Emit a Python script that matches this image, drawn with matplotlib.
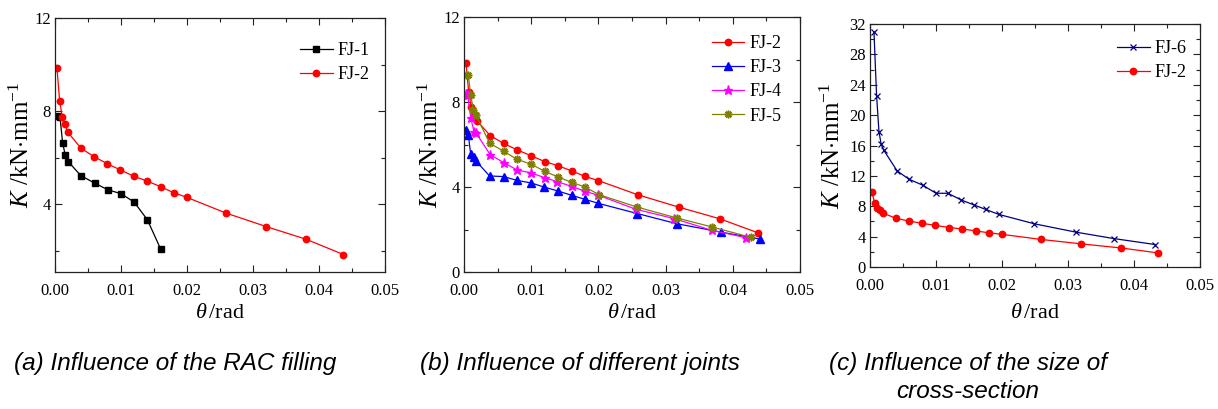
import matplotlib
matplotlib.use("Agg")
import matplotlib.pyplot as plt
from matplotlib.ticker import MultipleLocator, FormatStrFormatter

plt.rcParams['font.family'] = 'serif'
plt.rcParams['font.serif'] = ['Liberation Serif', 'DejaVu Serif']
plt.rcParams['mathtext.fontset'] = 'custom'
plt.rcParams['mathtext.rm'] = 'Liberation Serif'
plt.rcParams['mathtext.it'] = 'Liberation Serif:italic'

# ---------------- data ----------------
theta_fj1 = [0.00035, 0.00076, 0.00116, 0.00157, 0.0020, 0.0039, 0.0061, 0.0080, 0.0100, 0.0120, 0.0140, 0.0160]
k_fj1 = [7.81, 7.74, 6.63, 6.10, 5.84, 5.24, 4.90, 4.63, 4.46, 4.10, 3.34, 2.09]

theta_fj2 = [0.0003, 0.0007, 0.0011, 0.0015, 0.0019, 0.0039, 0.0059, 0.0079, 0.0099,
             0.0120, 0.0140, 0.0160, 0.0180, 0.0200, 0.0259, 0.0320, 0.0381, 0.0437]
k_fj2 = [9.85, 8.45, 7.75, 7.45, 7.12, 6.42, 6.05, 5.75, 5.48,
         5.20, 5.00, 4.76, 4.50, 4.30, 3.63, 3.05, 2.50, 1.85]

theta_fj3 = [0.00025, 0.00065, 0.0010, 0.00144, 0.0018, 0.0038, 0.0059, 0.0079, 0.0100,
             0.0119, 0.0140, 0.0160, 0.0180, 0.0200, 0.0258, 0.0317, 0.0382, 0.0440]
k_fj3 = [6.67, 6.43, 5.54, 5.41, 5.22, 4.52, 4.49, 4.31, 4.19,
         4.00, 3.81, 3.61, 3.42, 3.23, 2.75, 2.27, 1.88, 1.55]

theta_fj4 = [0.00025, 0.00055, 0.0010, 0.0015, 0.0018, 0.0039, 0.0059, 0.0079, 0.0099,
             0.0120, 0.0139, 0.0160, 0.0180, 0.0200, 0.0256, 0.0313, 0.0369, 0.0419]
k_fj4 = [8.36, 8.31, 7.26, 6.59, 6.54, 5.52, 5.15, 4.80, 4.67,
         4.44, 4.25, 4.03, 3.80, 3.61, 2.95, 2.51, 1.96, 1.62]

theta_fj5 = [0.00025, 0.00065, 0.0010, 0.0014, 0.0018, 0.0038, 0.0059, 0.0079, 0.0100,
             0.0120, 0.0140, 0.0160, 0.0180, 0.0201, 0.0257, 0.0317, 0.0369, 0.0427]
k_fj5 = [9.25, 9.25, 8.31, 7.64, 7.37, 6.07, 5.68, 5.30, 5.07,
         4.74, 4.47, 4.22, 4.00, 3.64, 3.06, 2.54, 2.12, 1.63]

theta_fj6 = [0.0006, 0.0010, 0.00136, 0.0017, 0.0021, 0.0041, 0.0059, 0.0080, 0.0100,
             0.0118, 0.0138, 0.0158, 0.0175, 0.0195, 0.0249, 0.0312, 0.0369, 0.0432]
k_fj6 = [30.98, 22.5, 17.8, 16.15, 15.36, 12.67, 11.56, 10.77, 9.71,
         9.71, 8.83, 8.16, 7.59, 6.93, 5.69, 4.59, 3.75, 2.96]

captions = ["(a) Influence of the RAC filling",
            "(b) Influence of different joints",
            "(c) Influence of the size of\ncross-section"]

W, H = 1218, 409
fig = plt.figure(figsize=(W / 100, H / 100), dpi=100)


def ax_at(left, top, right, bottom):
    ax = fig.add_axes([left / W, 1 - bottom / H, (right - left) / W, (bottom - top) / H])
    ax._px = (left, top, right, bottom)
    return ax


def style(ax, ylim, ymaj, ymin, ylab_dx):
    left, top, right, bottom = ax._px
    ax.set_xlim(0, 0.05)
    ax.set_ylim(*ylim)
    ax.xaxis.set_major_locator(MultipleLocator(0.01))
    ax.xaxis.set_minor_locator(MultipleLocator(0.005))
    ax.xaxis.set_major_formatter(FormatStrFormatter('%.2f'))
    ax.yaxis.set_major_locator(MultipleLocator(ymaj))
    ax.yaxis.set_minor_locator(MultipleLocator(ymin))
    ax.tick_params(which='both', direction='in', top=True, right=True,
                   labelsize=12, width=0.8, color='#222222',
                   labelfontfamily='Liberation Serif')
    ax.tick_params(which='major', length=5, pad=3)
    ax.tick_params(axis='x', which='major', pad=8)
    ax.tick_params(which='minor', length=3)
    for s in ax.spines.values():
        s.set_linewidth(0.9)
        s.set_color('#222222')
    ax.set_xlabel(r'$\theta\,$/rad', fontsize=16)
    ax.xaxis.set_label_coords(0.5, -(313 - bottom) / (bottom - top))
    ax.xaxis.label.set_va('center')
    ax.set_ylabel(r'$K$ /kN$\cdot$mm$^{-1}$', fontsize=18)
    ax.yaxis.set_label_coords(ylab_dx / (right - left), 0.5)


def leg(ax, x, y):
    ax.legend(loc='upper left', bbox_to_anchor=(x / W, 1 - y / H),
              bbox_transform=fig.transFigure, frameon=False, fontsize=13,
              handlelength=1.8, handletextpad=0.3, labelspacing=0.4,
              borderpad=0, borderaxespad=0)


lw = 0.9
ms_c = 4.6
# (a)
ax1 = ax_at(55, 18, 385, 272)
ax1.plot(theta_fj1, k_fj1, color='black', marker='s', ms=4.2, lw=lw, label='FJ-1')
ax1.plot(theta_fj2, k_fj2, color='red', marker='o', ms=ms_c, lw=lw, label='FJ-2')
style(ax1, (1.1, 12), 4, 2, -21)
leg(ax1, 300, 42)

# (b)
ax2 = ax_at(464, 17, 800, 272)
ax2.plot(theta_fj2, k_fj2, color='red', marker='o', ms=ms_c, lw=lw, label='FJ-2')
ax2.plot(theta_fj3, k_fj3, color='blue', marker='^', ms=5.2, lw=lw, label='FJ-3')
ax2.plot(theta_fj4, k_fj4, color='#ff00ff', marker='*', ms=6.5, lw=lw, label='FJ-4')
ax2.plot(theta_fj5, k_fj5, color='#808000', marker=(8, 2, 0), ms=5.5, mew=1.2, lw=lw, label='FJ-5')
style(ax2, (0, 12), 4, 2, -21)
leg(ax2, 712, 35)

# (c)
ax3 = ax_at(870, 24, 1200, 267)
ax3.plot(theta_fj6, k_fj6, color='#000080', marker='x', ms=5, mew=0.9, lw=lw, label='FJ-6')
ax3.plot(theta_fj2, k_fj2, color='red', marker='o', ms=ms_c, lw=lw, label='FJ-2')
style(ax3, (0, 32), 4, 2, -25)
leg(ax3, 1117, 40)

# captions
cap_kw = dict(family=['Liberation Sans', 'DejaVu Sans'], style='italic', fontsize=17.5,
              ha='center', va='top', transform=fig.transFigure, linespacing=1.27)
fig.text(175 / W, 1 - 352 / H, captions[0], **cap_kw)
fig.text(580 / W, 1 - 352 / H, captions[1], **cap_kw)
fig.text(968 / W, 1 - 352 / H, captions[2], **cap_kw)

fig.savefig('out.png', dpi=100)
